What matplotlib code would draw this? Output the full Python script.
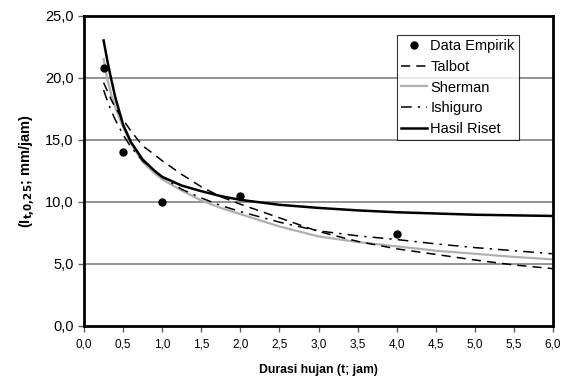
import matplotlib
matplotlib.use("Agg")
import matplotlib.pyplot as plt
import numpy as np

plt.rcParams['font.family'] = ['Liberation Sans', 'DejaVu Sans']

# Empirical data
t_emp = [0.25, 0.5, 1.0, 2.0, 4.0]
i_emp = [20.8, 14.0, 10.0, 10.5, 7.4]

# Curves
t_curve = [0.25, 0.3, 0.35, 0.4, 0.5, 0.6, 0.75, 0.9, 1.0, 1.25, 1.5, 1.75, 2.0, 2.5, 3.0, 3.5, 4.0, 4.5, 5.0, 5.5, 6.0]
talbot = [19.6, 18.9, 18.2, 17.6, 16.6, 15.7, 14.5, 13.8, 13.3, 12.2, 11.2, 10.4, 9.8, 8.7, 7.6, 6.8, 6.2, 5.75, 5.3, 4.9, 4.6]
sherman = [21.5, 19.8, 18.6, 17.6, 16.0, 14.7, 13.2, 12.3, 11.8, 10.9, 10.1, 9.5, 9.0, 8.0, 7.2, 6.75, 6.4, 6.05, 5.8, 5.55, 5.35]
ishiguro = [19.0, 18.1, 17.3, 16.6, 15.4, 14.4, 13.3, 12.5, 12.0, 11.0, 10.3, 9.7, 9.2, 8.35, 7.65, 7.25, 6.95, 6.6, 6.3, 6.05, 5.8]
hasil = [23.0, 21.3, 19.8, 18.4, 16.2, 14.8, 13.4, 12.5, 12.0, 11.3, 10.85, 10.45, 10.15, 9.75, 9.5, 9.3, 9.15, 9.05, 8.95, 8.9, 8.85]

x_ticks = [0.0, 0.5, 1.0, 1.5, 2.0, 2.5, 3.0, 3.5, 4.0, 4.5, 5.0, 5.5, 6.0]
y_ticks = [0.0, 5.0, 10.0, 15.0, 20.0, 25.0]

fig = plt.figure(figsize=(5.68, 3.81), dpi=100)
ax = fig.add_axes([0.148, 0.1451, 0.9736 - 0.148, 0.9588 - 0.1451])

for y in y_ticks[1:-1]:
    ax.axhline(y, color='#808080', lw=1.2, zorder=1)

ax.plot(t_emp, i_emp, 'o', color='black', ms=5, label='Data Empirik', zorder=5)
ax.plot(t_curve, talbot, color='black', lw=1.1, dashes=(6, 4), label='Talbot', zorder=3)
ax.plot(t_curve, sherman, color='#b0b0b0', lw=1.6, label='Sherman', zorder=2)
ax.plot(t_curve, ishiguro, color='black', lw=1.1, dashes=(7, 4, 1.5, 4), label='Ishiguro', zorder=3)
ax.plot(t_curve, hasil, color='black', lw=1.8, label='Hasil Riset', zorder=4)

ax.set_xlim(0, 6)
ax.set_ylim(0, 25)
ax.set_xticks(x_ticks)
ax.set_yticks(y_ticks)
ax.set_xticklabels([f"{v:.1f}".replace('.', ',') for v in x_ticks], fontsize=8.5)
ax.set_yticklabels([f"{v:.1f}".replace('.', ',') for v in y_ticks], fontsize=10.5)
ax.tick_params(direction='out', length=4, width=1, color='#606060')
ax.tick_params(axis='x', pad=5)
for s in ax.spines.values():
    s.set_linewidth(2)
    s.set_color('black')

ax.set_xlabel('Durasi hujan (t; jam)', fontsize=8.8, fontweight='bold', labelpad=10)
ax.set_ylabel(r'(I$_{\mathbf{t{,}0{,}25}}$; mm/jam)', fontsize=10.5, fontweight='bold', labelpad=5)

leg = ax.legend(loc='upper right', bbox_to_anchor=(0.9275, 0.9377), fontsize=10.5,
                frameon=True, fancybox=False, shadow=False, handlelength=1.8,
                handletextpad=0.2, borderpad=0.3, labelspacing=0.45, borderaxespad=0)
leg.get_frame().set_edgecolor('black')
leg.get_frame().set_linewidth(0.8)
leg.set_zorder(10)

fig.savefig('out.png', dpi=100)
